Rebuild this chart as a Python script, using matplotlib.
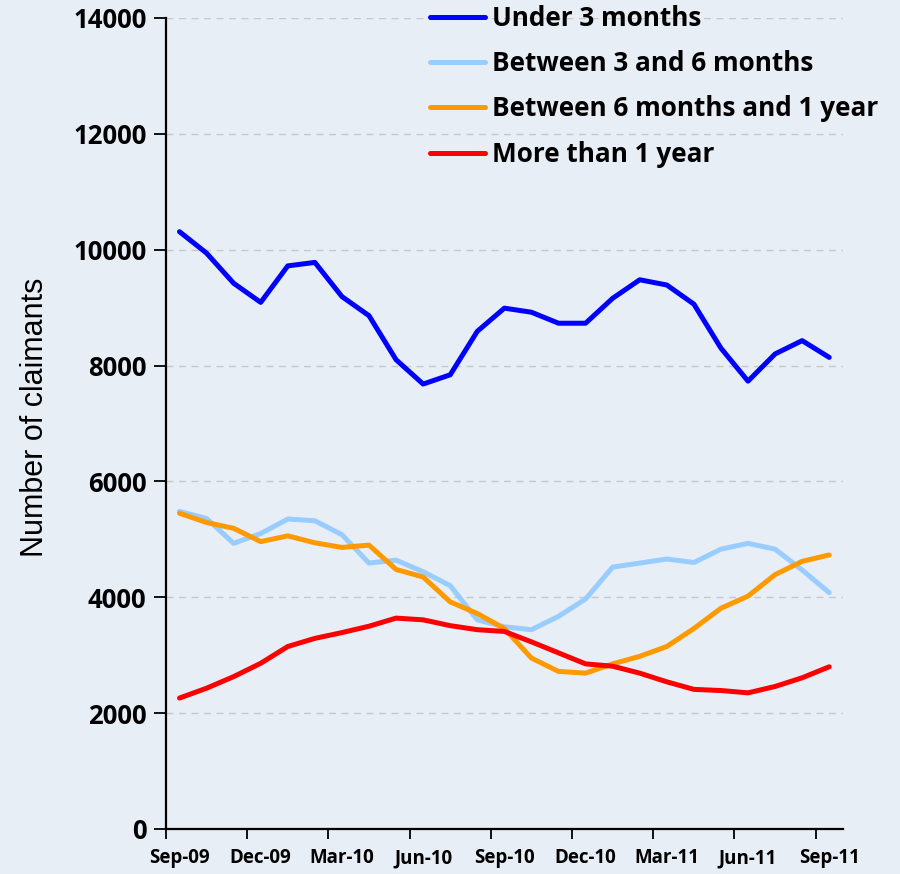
import matplotlib
matplotlib.use("Agg")
import matplotlib.pyplot as plt

# monthly claimant counts, Sep-09 .. Sep-11
months = ["Sep-09", "Oct-09", "Nov-09", "Dec-09", "Jan-10", "Feb-10", "Mar-10",
          "Apr-10", "May-10", "Jun-10", "Jul-10", "Aug-10", "Sep-10", "Oct-10",
          "Nov-10", "Dec-10", "Jan-11", "Feb-11", "Mar-11", "Apr-11", "May-11",
          "Jun-11", "Jul-11", "Aug-11", "Sep-11"]

under_3m = [10310, 9940, 9420, 9090, 9720, 9780, 9190, 8860, 8100, 7680, 7840, 8590,
            8990, 8920, 8730, 8730, 9160, 9480, 9390, 9060, 8300, 7730, 8200, 8430, 8140]
m3_to_6 = [5480, 5360, 4930, 5100, 5350, 5320, 5080, 4590, 4640, 4440, 4200, 3610,
           3490, 3440, 3670, 3970, 4520, 4590, 4660, 4600, 4830, 4930, 4830, 4470, 4080]
m6_to_1y = [5450, 5290, 5190, 4960, 5060, 4940, 4860, 4900, 4480, 4350, 3920, 3720,
            3460, 2950, 2720, 2690, 2850, 2980, 3150, 3460, 3810, 4020, 4390, 4620, 4730]
over_1y = [2260, 2430, 2630, 2860, 3150, 3290, 3390, 3500, 3640, 3610, 3510, 3440,
           3410, 3230, 3040, 2850, 2810, 2690, 2540, 2410, 2390, 2350, 2460, 2610, 2800]

series = [("Under 3 months", under_3m, "#0000ff"),
          ("Between 3 and 6 months", m3_to_6, "#99ccff"),
          ("Between 6 months and 1 year", m6_to_1y, "#ff9900"),
          ("More than 1 year", over_1y, "#ff0000")]

bold_font = "Open Sans"
bg = "#e8eef6"

fig = plt.figure(figsize=(9, 8.74), dpi=100, facecolor=bg)
ax = fig.add_axes([0.1844, 0.0515, 0.752, 0.928])
ax.set_facecolor(bg)

x = list(range(len(months)))
for name, vals, col in series:
    ax.plot(x, vals, color=col, lw=3.6, label=name, solid_joinstyle="round",
            solid_capstyle="round")

ax.set_xlim(-0.5, len(months) - 0.5)
ax.set_ylim(0, 14000)
ax.set_yticks(range(0, 14001, 2000))
ax.yaxis.grid(True, color="#c8c8c8", linestyle=(0, (5, 4)), lw=1)
ax.set_axisbelow(True)

# category axis: ticks between categories, labels every 3rd month
ax.set_xticks([i - 0.5 for i in range(0, len(months), 3)])
ax.set_xticklabels([])
ax.set_xticks(x[::3], minor=True)
ax.set_xticklabels(months[::3], minor=True)
ax.tick_params(axis="x", which="minor", length=0, pad=14)
ax.tick_params(axis="x", which="major", length=7, width=1.3, direction="out")
ax.tick_params(axis="y", length=9, width=1.3, direction="out", pad=5)

for lab in ax.get_xticklabels(minor=True):
    lab.set_fontfamily(bold_font)
    lab.set_fontweight("bold")
    lab.set_fontsize(13.5)
for lab in ax.get_yticklabels():
    lab.set_fontfamily(bold_font)
    lab.set_fontweight("bold")
    lab.set_fontsize(18.5)

for s in ["top", "right"]:
    ax.spines[s].set_visible(False)
for s in ["left", "bottom"]:
    ax.spines[s].set_linewidth(1.6)

ax.set_ylabel("Number of claimants", fontfamily="Liberation Sans", fontsize=22)
ax.yaxis.set_label_coords(-0.171, 0.508)

leg = ax.legend(loc="upper left", bbox_to_anchor=(0.355, 1.045), frameon=False,
                prop={"family": bold_font, "weight": "bold", "size": 18.8},
                handlelength=2.1, handletextpad=0.3, labelspacing=0.7)

fig.savefig("out.png", dpi=100, facecolor=bg)
